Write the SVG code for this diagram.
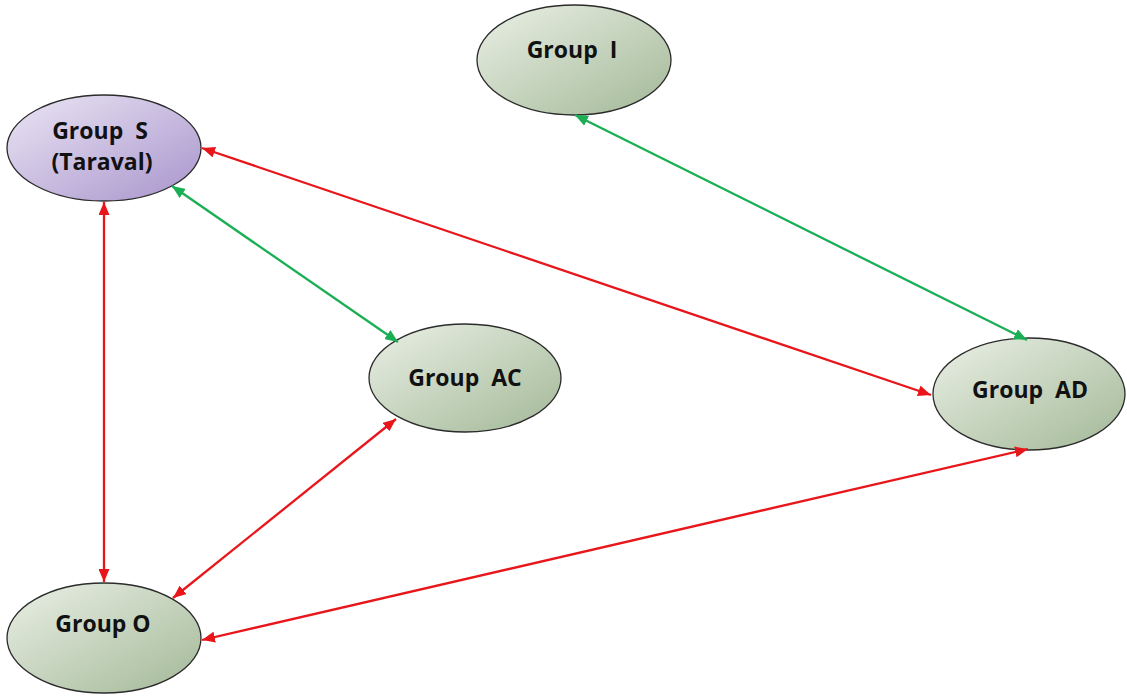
<svg xmlns="http://www.w3.org/2000/svg" width="1127" height="699" viewBox="0 0 1127 699">
<style>
.node{stroke:#2b2b2b;stroke-width:1.3}
.lbl{font-family:"Open Sans","Noto Sans","Liberation Sans",sans-serif;font-weight:bold;font-size:23px;fill:#111;text-anchor:middle;white-space:pre}
.red{stroke:#e8161b;stroke-width:2.3;fill:none}
.grn{stroke:#1aaf54;stroke-width:2.3;fill:none}
</style>
<defs>
<linearGradient id="gG" x1="0" y1="0" x2="1" y2="1">
<stop offset="0" stop-color="#eaf0e6"/>
<stop offset="1" stop-color="#a3b897"/>
</linearGradient>
<linearGradient id="gP" x1="0" y1="0" x2="1" y2="1">
<stop offset="0" stop-color="#ebe6f4"/>
<stop offset="1" stop-color="#a894cc"/>
</linearGradient>
<marker id="aR" viewBox="0 0 13 11" refX="13" refY="5.5" markerWidth="13" markerHeight="11" markerUnits="userSpaceOnUse" orient="auto-start-reverse">
<path d="M0,0 L13,5.5 L0,11 z" fill="#e8161b"/>
</marker>
<marker id="aG" viewBox="0 0 13 11" refX="13" refY="5.5" markerWidth="13" markerHeight="11" markerUnits="userSpaceOnUse" orient="auto-start-reverse">
<path d="M0,0 L13,5.5 L0,11 z" fill="#1aaf54"/>
</marker>
</defs>
<rect width="1127" height="699" fill="#ffffff"/>
<g id="nodeS">
<ellipse class="node" cx="104" cy="148" rx="97" ry="53" fill="url(#gP)"/>
<text class="lbl" x="100" y="139" xml:space="preserve">Group  S</text>
<text class="lbl" x="102" y="170">(Taraval)</text>
</g>
<g id="nodeI">
<ellipse class="node" cx="574" cy="60" rx="97" ry="55" fill="url(#gG)"/>
<text class="lbl" x="572" y="58" xml:space="preserve">Group  I</text>
</g>
<g id="nodeAC">
<ellipse class="node" cx="465" cy="378" rx="96" ry="54" fill="url(#gG)"/>
<text class="lbl" x="465" y="386" xml:space="preserve">Group  AC</text>
</g>
<g id="nodeAD">
<ellipse class="node" cx="1029" cy="394" rx="96" ry="56" fill="url(#gG)"/>
<text class="lbl" x="1030" y="398" xml:space="preserve">Group  AD</text>
</g>
<g id="nodeO">
<ellipse class="node" cx="104" cy="638" rx="97" ry="55" fill="url(#gG)"/>
<text class="lbl" x="103" y="632">Group O</text>
</g>
<g id="connectors">
<line class="grn" x1="575" y1="115" x2="1027" y2="340" marker-start="url(#aG)" marker-end="url(#aG)"/>
<line class="grn" x1="172" y1="186" x2="398" y2="342" marker-start="url(#aG)" marker-end="url(#aG)"/>
<line class="red" x1="202" y1="148" x2="931" y2="395" marker-start="url(#aR)" marker-end="url(#aR)"/>
<line class="red" x1="104" y1="202" x2="104" y2="582" marker-start="url(#aR)" marker-end="url(#aR)"/>
<line class="red" x1="396" y1="419" x2="173" y2="598" marker-start="url(#aR)" marker-end="url(#aR)"/>
<line class="red" x1="1028" y1="449" x2="202" y2="640" marker-start="url(#aR)" marker-end="url(#aR)"/>
</g>
</svg>
